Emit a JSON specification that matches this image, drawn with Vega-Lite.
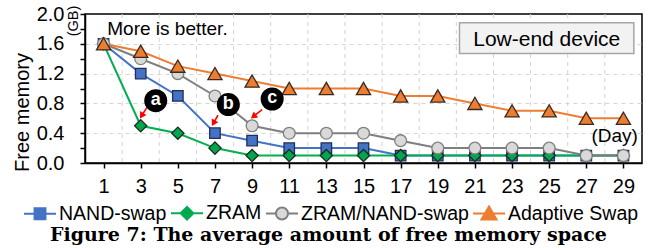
{
  "$schema": "https://vega.github.io/schema/vega-lite/v6.json",
  "width": 557,
  "height": 149,
  "autosize": {"type": "none"},
  "padding": {"left": 85, "top": 14, "right": 15, "bottom": 85},
  "background": "white",
  "config": {
    "view": {"stroke": "black", "strokeWidth": 1.5},
    "font": "Liberation Sans",
    "axis": {"labelFont": "Liberation Sans", "titleFont": "Liberation Sans", "labelColor": "black", "titleColor": "black", "labelOverlap": false, "labelFlush": false}
  },
  "title": {
    "text": "Figure 7: The average amount of free memory space",
    "orient": "bottom",
    "frame": "group",
    "anchor": "middle",
    "offset": 2,
    "dx": -35,
    "font": "DejaVu Serif",
    "fontWeight": "bold",
    "fontSize": 19,
    "color": "black"
  },
  "datasets": {
    "series": [
      {"x": 1, "y": 1.6, "s": "NAND-swap"}, {"x": 3, "y": 1.2, "s": "NAND-swap"}, {"x": 5, "y": 0.9, "s": "NAND-swap"}, {"x": 7, "y": 0.4, "s": "NAND-swap"}, {"x": 9, "y": 0.3, "s": "NAND-swap"}, {"x": 11, "y": 0.2, "s": "NAND-swap"}, {"x": 13, "y": 0.2, "s": "NAND-swap"}, {"x": 15, "y": 0.2, "s": "NAND-swap"}, {"x": 17, "y": 0.1, "s": "NAND-swap"}, {"x": 19, "y": 0.1, "s": "NAND-swap"}, {"x": 21, "y": 0.1, "s": "NAND-swap"}, {"x": 23, "y": 0.1, "s": "NAND-swap"}, {"x": 25, "y": 0.1, "s": "NAND-swap"}, {"x": 27, "y": 0.1, "s": "NAND-swap"}, {"x": 29, "y": 0.1, "s": "NAND-swap"},
      {"x": 1, "y": 1.6, "s": "ZRAM"}, {"x": 3, "y": 0.5, "s": "ZRAM"}, {"x": 5, "y": 0.4, "s": "ZRAM"}, {"x": 7, "y": 0.2, "s": "ZRAM"}, {"x": 9, "y": 0.1, "s": "ZRAM"}, {"x": 11, "y": 0.1, "s": "ZRAM"}, {"x": 13, "y": 0.1, "s": "ZRAM"}, {"x": 15, "y": 0.1, "s": "ZRAM"}, {"x": 17, "y": 0.1, "s": "ZRAM"}, {"x": 19, "y": 0.1, "s": "ZRAM"}, {"x": 21, "y": 0.1, "s": "ZRAM"}, {"x": 23, "y": 0.1, "s": "ZRAM"}, {"x": 25, "y": 0.1, "s": "ZRAM"}, {"x": 27, "y": 0.1, "s": "ZRAM"}, {"x": 29, "y": 0.1, "s": "ZRAM"},
      {"x": 1, "y": 1.6, "s": "ZRAM/NAND-swap"}, {"x": 3, "y": 1.4, "s": "ZRAM/NAND-swap"}, {"x": 5, "y": 1.2, "s": "ZRAM/NAND-swap"}, {"x": 7, "y": 0.9, "s": "ZRAM/NAND-swap"}, {"x": 9, "y": 0.5, "s": "ZRAM/NAND-swap"}, {"x": 11, "y": 0.4, "s": "ZRAM/NAND-swap"}, {"x": 13, "y": 0.4, "s": "ZRAM/NAND-swap"}, {"x": 15, "y": 0.4, "s": "ZRAM/NAND-swap"}, {"x": 17, "y": 0.3, "s": "ZRAM/NAND-swap"}, {"x": 19, "y": 0.2, "s": "ZRAM/NAND-swap"}, {"x": 21, "y": 0.2, "s": "ZRAM/NAND-swap"}, {"x": 23, "y": 0.2, "s": "ZRAM/NAND-swap"}, {"x": 25, "y": 0.2, "s": "ZRAM/NAND-swap"}, {"x": 27, "y": 0.1, "s": "ZRAM/NAND-swap"}, {"x": 29, "y": 0.1, "s": "ZRAM/NAND-swap"},
      {"x": 1, "y": 1.6, "s": "Adaptive Swap"}, {"x": 3, "y": 1.5, "s": "Adaptive Swap"}, {"x": 5, "y": 1.3, "s": "Adaptive Swap"}, {"x": 7, "y": 1.2, "s": "Adaptive Swap"}, {"x": 9, "y": 1.1, "s": "Adaptive Swap"}, {"x": 11, "y": 1.0, "s": "Adaptive Swap"}, {"x": 13, "y": 1.0, "s": "Adaptive Swap"}, {"x": 15, "y": 1.0, "s": "Adaptive Swap"}, {"x": 17, "y": 0.9, "s": "Adaptive Swap"}, {"x": 19, "y": 0.9, "s": "Adaptive Swap"}, {"x": 21, "y": 0.8, "s": "Adaptive Swap"}, {"x": 23, "y": 0.7, "s": "Adaptive Swap"}, {"x": 25, "y": 0.7, "s": "Adaptive Swap"}, {"x": 27, "y": 0.6, "s": "Adaptive Swap"}, {"x": 29, "y": 0.6, "s": "Adaptive Swap"}
    ],
    "xgrid": [{"x": 2}, {"x": 4}, {"x": 6}, {"x": 8}, {"x": 10}, {"x": 12}, {"x": 14}, {"x": 16}, {"x": 18}, {"x": 20}, {"x": 22}, {"x": 24}, {"x": 26}, {"x": 28}],
    "arrows": [
      {"x": 3.34, "y": 0.747, "x2": 3.05, "y2": 0.635, "angle": 212},
      {"x": 7.16, "y": 0.641, "x2": 6.92, "y2": 0.535, "angle": 209},
      {"x": 9.54, "y": 0.715, "x2": 9.07, "y2": 0.625, "angle": 232}
    ],
    "badges": [
      {"x": 3.81, "y": 0.836, "t": "a"},
      {"x": 7.72, "y": 0.785, "t": "b"},
      {"x": 10.08, "y": 0.859, "t": "c"}
    ]
  },
  "layer": [
    {
      "data": {"name": "xgrid"},
      "mark": {"type": "rule", "strokeDash": [4, 4], "color": "#d4d4d4", "strokeWidth": 1},
      "encoding": {
        "x": {
          "field": "x", "type": "quantitative",
          "scale": {"domain": [0, 30], "nice": false, "zero": false},
          "axis": {
            "values": [1, 3, 5, 7, 9, 11, 13, 15, 17, 19, 21, 23, 25, 27, 29],
            "tickCount": 100, "format": "d",
            "grid": false, "tickSize": 5, "tickColor": "black", "tickWidth": 1.5,
            "domainColor": "black", "domainWidth": 1.5,
            "labelFontSize": 20, "labelPadding": 8, "labelFlush": false, "labelOverlap": false,
            "title": null
          }
        }
      }
    },
    {
      "data": {"values": [{"x": 20.17, "x2": 29.56, "y": 1.882, "y2": 1.47}]},
      "mark": {"type": "rect", "fill": "#F2F2F2", "stroke": "#A6A6A6", "strokeWidth": 1.5},
      "encoding": {
        "x": {"field": "x", "type": "quantitative"},
        "x2": {"field": "x2"},
        "y": {
          "field": "y", "type": "quantitative",
          "scale": {"domain": [0, 2], "nice": false, "zero": true},
          "axis": {
            "values": [0, 0.2, 0.4, 0.6, 0.8, 1.0, 1.2, 1.4, 1.6, 1.8, 2.0],
            "tickCount": 100,
            "format": ".1f",
            "labelExpr": "round(datum.value*10)%4==0 ? datum.label : ''",
            "grid": true, "gridDash": [4, 4], "gridColor": "#d4d4d4",
            "gridOpacity": {"condition": {"test": "round(datum.value*10)%4==0 && datum.value>0.01 && datum.value<1.99", "value": 1}, "value": 0},
            "tickSize": 5, "tickColor": "black", "tickWidth": 1.5,
            "domainColor": "black", "domainWidth": 1.5,
            "labelFontSize": 20, "labelPadding": 16, "labelFlush": false, "labelOverlap": false,
            "title": "Free memory", "titleFontSize": 20, "titleFontWeight": "normal",
            "titleX": -63, "titleY": 98, "titleAngle": -90, "titleAlign": "center", "titleBaseline": "middle"
          }
        },
        "y2": {"field": "y2"}
      }
    },
    {
      "data": {"name": "series"},
      "mark": {"type": "line", "strokeWidth": 2},
      "encoding": {
        "x": {"field": "x", "type": "quantitative"},
        "y": {"field": "y", "type": "quantitative"},
        "color": {
          "field": "s", "type": "nominal",
          "scale": {"domain": ["NAND-swap", "ZRAM", "ZRAM/NAND-swap", "Adaptive Swap"], "range": ["#4472C4", "#00B050", "#7F7F7F", "#ED7D31"]},
          "legend": {
            "orient": "none", "legendX": -62, "legendY": 182,
            "direction": "horizontal", "columns": 4, "title": null,
            "labelFontSize": 19.5, "labelFont": "Liberation Sans", "labelColor": "black",
            "labelOffset": 2, "columnPadding": 0, "symbolSize": 1024, "symbolStrokeWidth": 2,
            "labelLimit": 400, "padding": 0, "symbolOpacity": 1,
            "symbolType": {"expr": "datum.value === 'NAND-swap' ? 'M-1,0H-0.34M0.34,0H1M-0.34,-0.34H0.34V0.34H-0.34Z' : datum.value === 'ZRAM' ? 'M-1,0H-0.4M0.4,0H1M-0.4,0L0,-0.4L0.4,0L0,0.4Z' : datum.value === 'ZRAM/NAND-swap' ? 'M-1,0H-0.375M0.375,0H1M0.375,0A0.375,0.375,0,1,1,-0.375,0A0.375,0.375,0,1,1,0.375,0Z' : 'M-1,0H-0.255M0.255,0H1M0,-0.44L0.47,0.37L-0.47,0.37Z'"},
            "symbolFillColor": {"expr": "datum.value === 'NAND-swap' ? '#4472C4' : datum.value === 'ZRAM' ? '#00A650' : datum.value === 'ZRAM/NAND-swap' ? '#D9D9D9' : '#ED7D31'"}
          }
        },
        "order": {"field": "x", "type": "quantitative"}
      }
    },
    {
      "data": {"name": "series"},
      "mark": {"type": "point", "filled": false, "strokeWidth": 1.3, "opacity": 1, "fillOpacity": 1},
      "encoding": {
        "x": {"field": "x", "type": "quantitative"},
        "y": {"field": "y", "type": "quantitative"},
        "shape": {"condition": [{"test": "datum.s === 'NAND-swap'", "value": "square"}, {"test": "datum.s === 'ZRAM'", "value": "diamond"}, {"test": "datum.s === 'ZRAM/NAND-swap'", "value": "circle"}], "value": "triangle-up"},
        "fill": {"condition": [{"test": "datum.s === 'NAND-swap'", "value": "#4472C4"}, {"test": "datum.s === 'ZRAM'", "value": "#00A650"}, {"test": "datum.s === 'ZRAM/NAND-swap'", "value": "#D9D9D9"}], "value": "#ED7D31"},
        "stroke": {"condition": [{"test": "datum.s === 'NAND-swap'", "value": "#1F2F5A"}, {"test": "datum.s === 'ZRAM'", "value": "#1E2B1E"}, {"test": "datum.s === 'ZRAM/NAND-swap'", "value": "#808080"}], "value": "#3A2A1E"},
        "size": {"condition": [{"test": "datum.s === 'NAND-swap'", "value": 110}, {"test": "datum.s === 'ZRAM'", "value": 150}, {"test": "datum.s === 'ZRAM/NAND-swap'", "value": 140}], "value": 200}
      }
    },
    {
      "data": {"name": "arrows"},
      "mark": {"type": "rule", "color": "#FF0000", "strokeWidth": 1.6},
      "encoding": {
        "x": {"field": "x", "type": "quantitative"},
        "y": {"field": "y", "type": "quantitative"},
        "x2": {"field": "x2"},
        "y2": {"field": "y2"}
      }
    },
    {
      "data": {"name": "arrows"},
      "mark": {"type": "point", "shape": "triangle-up", "filled": true, "color": "#FF0000", "size": 55, "opacity": 1},
      "encoding": {
        "x": {"field": "x2", "type": "quantitative"},
        "y": {"field": "y2", "type": "quantitative"},
        "angle": {"field": "angle", "type": "quantitative", "scale": null}
      }
    },
    {
      "data": {"name": "badges"},
      "mark": {"type": "point", "shape": "circle", "filled": true, "color": "black", "size": 530, "opacity": 1},
      "encoding": {
        "x": {"field": "x", "type": "quantitative"},
        "y": {"field": "y", "type": "quantitative"}
      }
    },
    {
      "data": {"name": "badges"},
      "mark": {"type": "text", "color": "white", "fontWeight": "bold", "fontSize": 18, "font": "Liberation Sans", "align": "center", "baseline": "middle", "dy": -1},
      "encoding": {
        "x": {"field": "x", "type": "quantitative"},
        "y": {"field": "y", "type": "quantitative"},
        "text": {"field": "t"}
      }
    },
    {
      "data": {"values": [{"x": 1.2, "y": 1.716, "t": "More is better."}]},
      "mark": {"type": "text", "color": "black", "fontSize": 19, "font": "Liberation Sans", "align": "left", "baseline": "alphabetic"},
      "encoding": {
        "x": {"field": "x", "type": "quantitative"},
        "y": {"field": "y", "type": "quantitative"},
        "text": {"field": "t"}
      }
    },
    {
      "data": {"values": [{"x": 24.87, "y": 1.568, "t": "Low-end device"}]},
      "mark": {"type": "text", "color": "black", "fontSize": 21, "font": "Liberation Sans", "align": "center", "baseline": "alphabetic"},
      "encoding": {
        "x": {"field": "x", "type": "quantitative"},
        "y": {"field": "y", "type": "quantitative"},
        "text": {"field": "t"}
      }
    },
    {
      "data": {"values": [{"x": 29.78, "y": 0.282, "t": "(Day)"}]},
      "mark": {"type": "text", "color": "black", "fontSize": 19, "font": "Liberation Sans", "align": "right", "baseline": "alphabetic"},
      "encoding": {
        "x": {"field": "x", "type": "quantitative"},
        "y": {"field": "y", "type": "quantitative"},
        "text": {"field": "t"}
      }
    },
    {
      "data": {"values": [{"x": -0.61, "y": 1.905, "t": "(GB)"}]},
      "mark": {"type": "text", "color": "black", "fontSize": 14.5, "font": "Liberation Sans", "align": "center", "baseline": "middle", "angle": 270},
      "encoding": {
        "x": {"field": "x", "type": "quantitative"},
        "y": {"field": "y", "type": "quantitative"},
        "text": {"field": "t"}
      }
    }
  ]
}
